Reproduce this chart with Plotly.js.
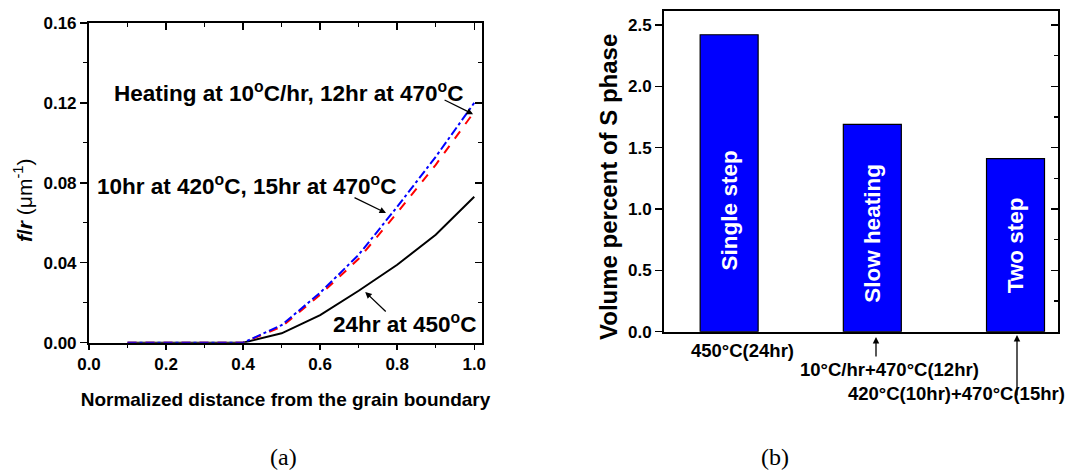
<!DOCTYPE html>
<html>
<head>
<meta charset="utf-8">
<script src="https://cdn.plot.ly/plotly-3.0.1.min.js"></script>
<style>
  html, body { margin: 0; padding: 0; background: #fff; }
  #chart { width: 1067px; height: 476px; }
</style>
</head>
<body>
<div id="chart"></div>
<script>
// ---- data: panel (a) ----
const distance = [0.1, 0.2, 0.3, 0.4, 0.5, 0.6, 0.7, 0.8, 0.9, 1.0];
const singleStep450 = [0, 0, 0, 0, 0.0047, 0.0138, 0.026, 0.039, 0.054, 0.073];
const twoStep420470 = [0, 0, 0, 0, 0.008, 0.024, 0.042, 0.065, 0.089, 0.1155];
const slowHeating470 = [0, 0, 0, 0, 0.0088, 0.025, 0.044, 0.068, 0.093, 0.120];

// ---- data: panel (b) ----
const treatments = ["Single step", "Slow heating", "Two step"];
const volumePercent = [2.42, 1.69, 1.41];
const conditions = ["450°C(24hr)", "10°C/hr+470°C(12hr)", "420°C(10hr)+470°C(15hr)"];
const barIndex = [0, 1, 2];

const FONT = "Liberation Sans, Arial, sans-serif";
const SERIF = "Liberation Serif, Times New Roman, serif";

const traces = [
  {x: distance, y: singleStep450, type: 'scatter', mode: 'lines', xaxis: 'x', yaxis: 'y',
   line: {color: '#000000', width: 2}, showlegend: false, hoverinfo: 'skip'},
  {x: distance, y: twoStep420470, type: 'scatter', mode: 'lines', xaxis: 'x', yaxis: 'y',
   line: {color: '#FF0000', width: 2, dash: 'dash'}, showlegend: false, hoverinfo: 'skip'},
  {x: distance, y: slowHeating470, type: 'scatter', mode: 'lines', xaxis: 'x', yaxis: 'y',
   line: {color: '#0000FF', width: 2, dash: 'dashdot'}, showlegend: false, hoverinfo: 'skip'},
  {x: [], y: [], type: 'scatter', xaxis: 'x3', yaxis: 'y3', showlegend: false, hoverinfo: 'skip'},
  {x: barIndex, y: volumePercent, type: 'bar', xaxis: 'x2', yaxis: 'y2', width: 0.405,
   marker: {color: '#0000FF', line: {color: '#000000', width: 1.2}}, showlegend: false, hoverinfo: 'skip'},
  {x: [], y: [], type: 'scatter', xaxis: 'x2', yaxis: 'y4', showlegend: false, hoverinfo: 'skip'}
];

const tickFont = {family: FONT, size: 17, color: '#000', weight: 'bold'};

const annotations = [];
function addText(xref, yref, text, x, y, font, angle) {
  annotations.push({xref: xref, yref: yref, x: x, y: y, text: text, showarrow: false,
    font: font, xanchor: 'center', yanchor: 'middle', textangle: angle || 0});
}
function addArrow(xref, yref, x, y, ax, ay, w) {
  annotations.push({xref: xref, yref: yref, x: x, y: y, ax: ax, ay: ay, text: '', showarrow: true,
    arrowhead: 2, arrowsize: 1, arrowwidth: w || 1.3, arrowcolor: '#000'});
}
const bold22 = {family: FONT, size: 22.5, color: '#000', weight: 'bold'};

// panel (a) labels
addText('x', 'y', 'Heating at 10<sup>o</sup>C/hr, 12hr at 470<sup>o</sup>C', 0.519, 0.1254, bold22);
addArrow('x', 'y', 0.997, 0.1143, -30, -15);
addText('x', 'y', '10hr at 420<sup>o</sup>C, 15hr at 470<sup>o</sup>C', 0.408, 0.0789, bold22);
addArrow('x', 'y', 0.771, 0.0649, -33, -16);
addText('x', 'y', '24hr at 450<sup>o</sup>C', 0.818, 0.0099, bold22);
addArrow('x', 'y', 0.717, 0.0254, 22, 21);

// panel (a) y title
addText('paper', 'paper', '<b><i>f</i>/<i>r</i></b> (μm<sup>-1</sup>)', 23 / 1067, 1 - 200 / 476,
  {family: FONT, size: 21, color: '#000', weight: 'normal'}, -90);

// panel (b) y title
addText('paper', 'paper', 'Volume percent of S phase', 609 / 1067, 1 - 187 / 476,
  {family: FONT, size: 24, color: '#000', weight: 'bold'}, -90);

// panel (b) in-bar labels
const inBarY = [0.99, 0.80, 0.70];
treatments.forEach((t, i) => {
  addText('x2', 'y2', t, barIndex[i], inBarY[i], {family: FONT, size: 22.5, color: '#fff', weight: 'bold'}, -90);
});
// panel (b) condition labels (below axis, paper coords)
const condPos = [[742, 350], [889, 369], [956, 393]];
conditions.forEach((c, i) => {
  addText('paper', 'paper', c, condPos[i][0] / 1067, 1 - condPos[i][1] / 476,
    {family: FONT, size: 18.5, color: '#000', weight: 'bold'});
});
addArrow('paper', 'paper', 876 / 1067, 1 - 337 / 476, 0, 21, 1.3);
addArrow('paper', 'paper', 1017 / 1067, 1 - 335 / 476, 0, 62, 1.3);

// (a) (b)
addText('paper', 'paper', '(a)', 283 / 1067, 1 - 457 / 476, {family: SERIF, size: 24, color: '#000', weight: 'normal'});
addText('paper', 'paper', '(b)', 775 / 1067, 1 - 457 / 476, {family: SERIF, size: 24, color: '#000', weight: 'normal'});

const layout = {
  width: 1067, height: 476,
  margin: {l: 0, r: 0, t: 0, b: 0},
  paper_bgcolor: '#fff', plot_bgcolor: 'rgba(0,0,0,0)',
  font: {family: FONT, color: '#000', weight: 'bold'},
  showlegend: false,
  xaxis: {
    domain: [0.0834, 0.4517], anchor: 'y', range: [0, 1.02], automargin: false,
    showgrid: false, zeroline: false, showline: true, linewidth: 2, linecolor: '#000',
    ticks: 'outside', ticklen: 5, tickwidth: 1.5, tickcolor: '#000', dtick: 0.2, tick0: 0, tickformat: '.1f',
    minor: {ticks: 'outside', ticklen: 3, dtick: 0.1, tick0: 0, tickwidth: 1.2, tickcolor: '#000', showgrid: false},
    tickfont: tickFont,
    title: {text: 'Normalized distance from the grain boundary', standoff: 20,
            font: {family: FONT, size: 19, color: '#000', weight: 'bold'}}
  },
  yaxis: {
    domain: [0.280, 0.952], anchor: 'x', range: [0, 0.16], automargin: false,
    showgrid: false, zeroline: false, showline: true, linewidth: 2, linecolor: '#000',
    ticks: 'outside', ticklen: 7, tickwidth: 1.5, tickcolor: '#000', dtick: 0.04, tick0: 0, tickformat: '.2f',
    minor: {ticks: 'outside', ticklen: 4, dtick: 0.02, tick0: 0, tickwidth: 1.2, tickcolor: '#000', showgrid: false},
    tickfont: tickFont
  },
  xaxis3: {
    overlaying: 'x', anchor: 'y', side: 'top', range: [0, 1.02], automargin: false,
    showgrid: false, zeroline: false, showline: true, linewidth: 2, linecolor: '#000',
    ticks: 'inside', ticklen: 7, tickwidth: 1.5, tickcolor: '#000', dtick: 0.2, tick0: 0, showticklabels: false,
    minor: {ticks: 'inside', ticklen: 4, dtick: 0.1, tick0: 0, tickwidth: 1.2, tickcolor: '#000', showgrid: false}
  },
  yaxis3: {
    overlaying: 'y', anchor: 'x', side: 'right', range: [0, 0.16], automargin: false,
    showgrid: false, zeroline: false, showline: true, linewidth: 2, linecolor: '#000',
    ticks: 'inside', ticklen: 7, tickwidth: 1.5, tickcolor: '#000', dtick: 0.04, tick0: 0, showticklabels: false,
    minor: {ticks: 'inside', ticklen: 4, dtick: 0.02, tick0: 0, tickwidth: 1.2, tickcolor: '#000', showgrid: false}
  },
  xaxis2: {
    domain: [0.6223, 0.9916], anchor: 'y2', range: [-0.455, 2.297], automargin: false,
    showgrid: false, zeroline: false, showline: true, mirror: true, linewidth: 2, linecolor: '#000',
    ticks: '', showticklabels: false
  },
  yaxis2: {
    domain: [0.3031, 0.9775], anchor: 'x2', range: [0, 2.616], automargin: false,
    showgrid: false, zeroline: false, showline: true, linewidth: 2, linecolor: '#000',
    ticks: 'outside', ticklen: 7, tickwidth: 1.5, tickcolor: '#000', dtick: 0.5, tick0: 0, tickformat: '.1f',
    tickfont: tickFont
  },
  yaxis4: {
    overlaying: 'y2', anchor: 'x2', side: 'right', range: [0, 2.616], automargin: false,
    showgrid: false, zeroline: false, showline: true, linewidth: 2, linecolor: '#000',
    ticks: 'inside', ticklen: 7, tickwidth: 1.5, tickcolor: '#000', dtick: 0.5, tick0: 0, showticklabels: false,
    minor: {ticks: 'inside', ticklen: 4, dtick: 0.25, tick0: 0, tickwidth: 1.2, tickcolor: '#000', showgrid: false}
  },
  annotations: annotations
};

Plotly.newPlot('chart', traces, layout, {staticPlot: true, displayModeBar: false});
</script>
</body>
</html>
